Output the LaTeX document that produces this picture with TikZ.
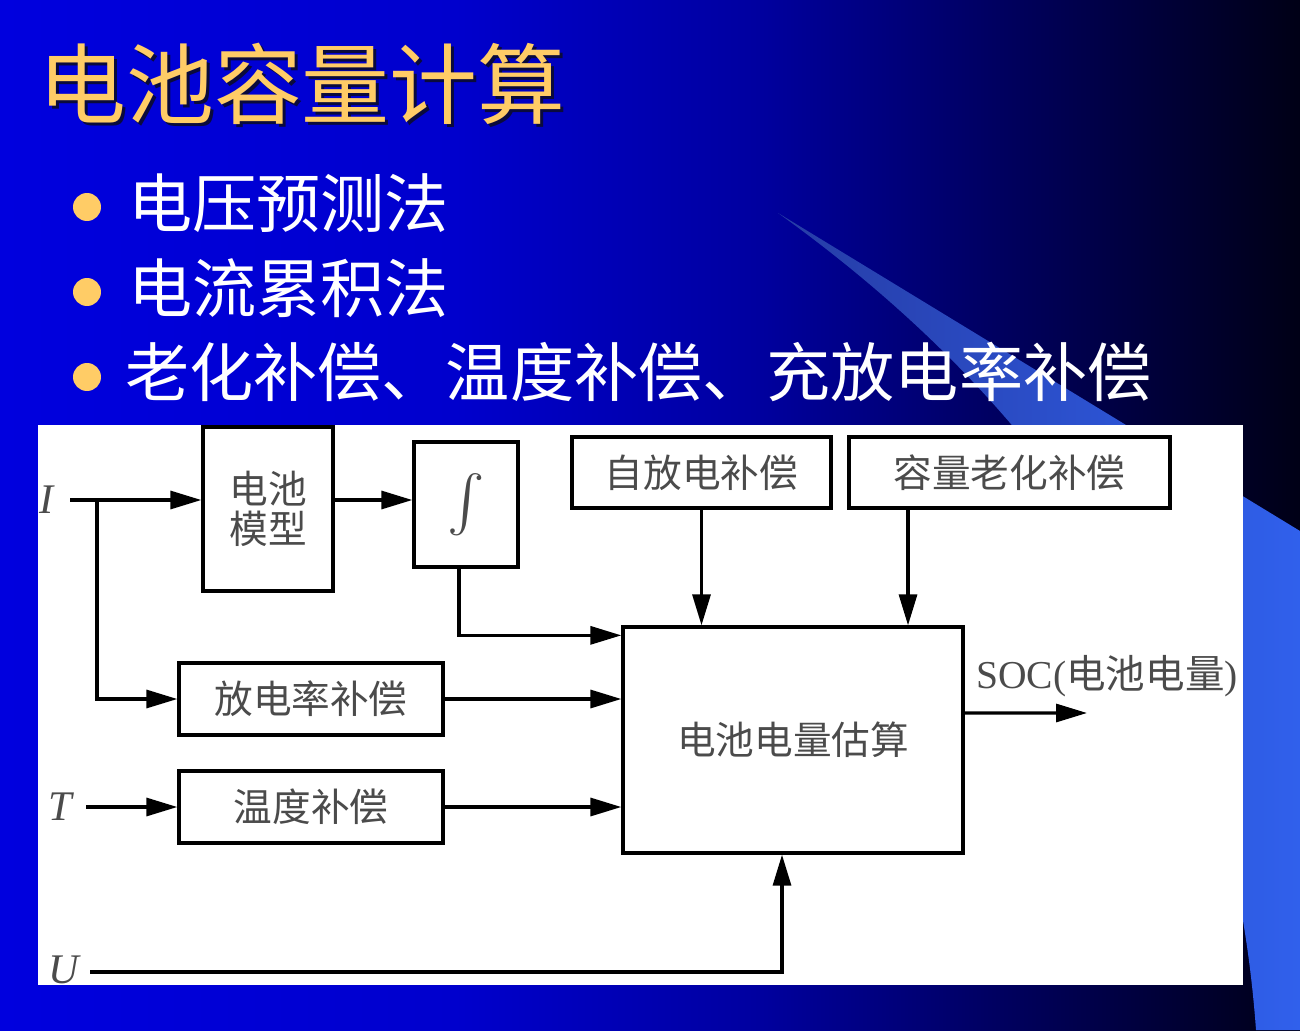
\documentclass[tikz,border=0pt]{standalone}
\usepackage{fontspec}
\setmainfont{Liberation Serif}
\newfontfamily\cjk{Noto Sans CJK SC}
\usetikzlibrary{arrows.meta}
\definecolor{gold}{RGB}{255,204,102}
\definecolor{titleshd}{RGB}{10,10,60}
\definecolor{wedgeL}{RGB}{38,60,165}
\definecolor{wedgeR}{RGB}{48,96,236}
\definecolor{txtgray}{RGB}{75,75,75}
\definecolor{bgA}{RGB}{0,0,222}
\definecolor{bgB}{RGB}{0,0,205}
\definecolor{bgC}{RGB}{0,0,160}
\definecolor{bgD}{RGB}{0,0,95}
\definecolor{bgE}{RGB}{0,0,22}
\pgfdeclarehorizontalshading{slidebg}{100bp}{color(0bp)=(bgA); color(25bp)=(bgA); color(42.5bp)=(bgB); color(54bp)=(bgC); color(63.5bp)=(bgD); color(75bp)=(bgE); color(100bp)=(bgE)}
\newcommand{\shadowed}[1]{{\color{titleshd}\rlap{\hspace{0.06cm}\raisebox{-0.06cm}{#1}}}#1}
\tikzset{
  titlestyle/.style={font=\cjk\fontsize{50pt}{55pt}\selectfont, text=gold, inner sep=0pt, anchor=west},
  bulletdot/.style={circle, fill=gold, minimum size=0.56cm, inner sep=0pt},
  bullettext/.style={font=\cjk\fontsize{36.5pt}{40pt}\selectfont, text=white, inner sep=0pt, anchor=west},
  blk/.style={draw=black, line width=1.9pt, fill=white, inner sep=0pt, align=center,
    font=\cjk\fontsize{22pt}{23pt}\selectfont, text=txtgray},
  sig/.style={font=\fontsize{24pt}{26pt}\selectfont\itshape, text=txtgray, inner sep=0pt},
  arr/.style={line width=1.8pt, -{Triangle[length=0.62cm,width=0.36cm]}},
}
\begin{document}
\begin{tikzpicture}[x=0.02cm,y=-0.02cm]
\useasboundingbox (0,0) rectangle (1300,1030);
% background
\shade[shading=slidebg] (0,0) rectangle (1300,1030);
\shade[left color=wedgeL, right color=wedgeR]
  (778,213) -- (1300,531) -- (1300,1030) -- (1256,1030)
  .. controls (1232,700) and (1080,430) .. (778,213) -- cycle;
% title
\node[titlestyle] (title) at (38,85) {\shadowed{电池容量计算}};
% bullets
\node[bulletdot] (b1) at (87,207) {};
\node[bulletdot] (b2) at (87,292) {};
\node[bulletdot] (b3) at (87,377) {};
\node[bullettext] (t1) at (128,203) {电压预测法};
\node[bullettext] (t2) at (128,288) {电流累积法};
\node[bullettext] (t3) at (125,372) {老化补偿、温度补偿、充放电率补偿};
% diagram
\begin{scope}
\clip (38,425) rectangle (1243,985);
\fill[white] (38,425) rectangle (1243,985);
\node[blk, minimum width=2.6cm, minimum height=3.28cm] (bm) at (268,509) {电池\\模型};
\node[blk, minimum width=2.08cm, minimum height=2.5cm] (integ) at (466,504.5) {\scalebox{3.2}{$\int$}};
\node[blk, minimum width=5.18cm, minimum height=1.42cm] (zfd) at (701.5,472.5) {自放电补偿};
\node[blk, minimum width=6.42cm, minimum height=1.42cm] (rlh) at (1009.5,472.5) {容量老化补偿};
\node[blk, minimum width=6.8cm, minimum height=4.52cm] (main) at (793,740) {电池电量估算};
\node[blk, minimum width=5.28cm, minimum height=1.44cm] (fdl) at (311,699) {放电率补偿};
\node[blk, minimum width=5.28cm, minimum height=1.44cm] (wd) at (311,807) {温度补偿};
\node[sig] (I) at (47,500) {I};
\node[sig] (T) at (60,807) {T};
\node[sig] (U) at (64,970) {U};
\node[inner sep=0pt, anchor=west, text=txtgray, font=\fontsize{22.5pt}{24pt}\selectfont] (soc) at (976,676) {SOC({\cjk 电池电量})};
\coordinate (Iin) at (70,500);
\coordinate (Ibr) at (97,500);
\coordinate (Tin) at (86,807);
\coordinate (Uin) at (90,972);
\coordinate (socEnd) at (1087,713);
\coordinate (r1) at ([xshift=-2.03cm]rlh.south);
\draw[arr] (Iin) -- (Iin -| bm.west);
\draw[arr] (Ibr) |- (fdl.west);
\draw[arr] (bm.east |- Iin) -- (integ.west |- Iin);
\draw[arr] ([xshift=-0.14cm]integ.south) |- ([yshift=-0.2cm]main.north west);
\draw[arr] (zfd.south) -- (zfd.south |- main.north);
\draw[arr] (r1) -- (r1 |- main.north);
\draw[arr] (fdl.east) -- (fdl.east -| main.west);
\draw[arr] (Tin) -- (wd.west);
\draw[arr] (wd.east) -- (wd.east -| main.west);
\draw[arr] (Uin) -| ([xshift=-0.22cm]main.south);
\draw[arr] ([yshift=0.54cm]main.east) -- (socEnd);
\end{scope}
\end{tikzpicture}
\end{document}
